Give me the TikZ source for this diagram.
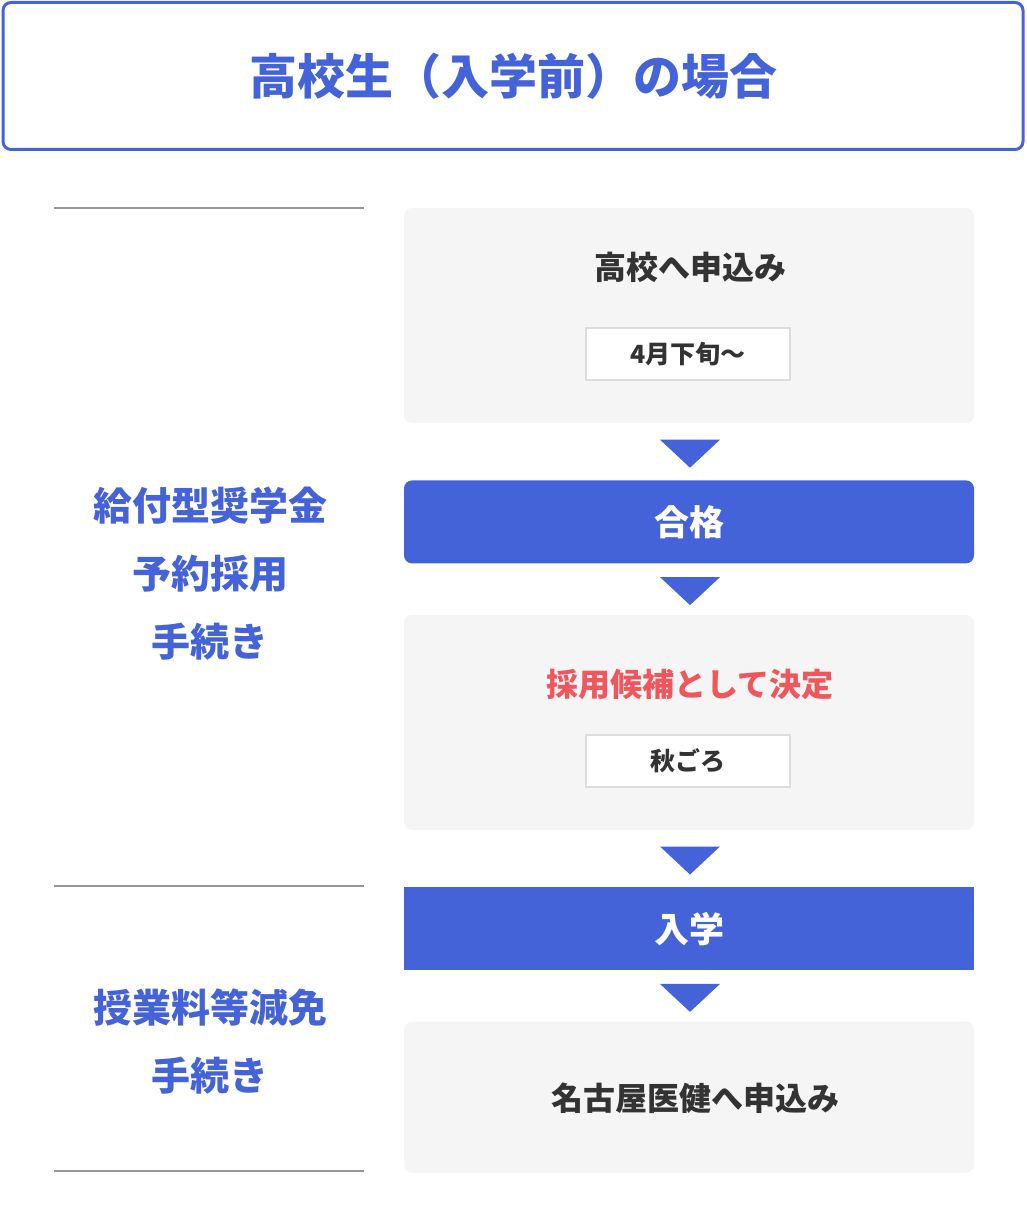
\documentclass[tikz,border=0pt]{standalone}
\usepackage{fontspec}
\setmainfont{Noto Sans CJK JP}
\usepackage{xcolor}
\usepackage{tikz}
\usetikzlibrary{positioning, calc}
\definecolor{flowblue}{RGB}{69, 99, 216}
\definecolor{flowred}{RGB}{240, 86, 92}
\definecolor{panelgray}{RGB}{245, 245, 245}
\definecolor{textdark}{RGB}{51, 51, 51}
\definecolor{rulegray}{RGB}{150, 150, 150}
\definecolor{framegray}{RGB}{221, 221, 221}
\newcommand{\px}[1]{\fontsize{#1}{#1}\selectfont}

\begin{document}
\begin{tikzpicture}[
        x=1pt, y=-1pt,
        panel/.style={rectangle, fill=panelgray, rounded corners=8pt, minimum width=570pt, inner sep=0pt},
        stage/.style={rectangle, fill=flowblue, minimum width=570pt, minimum height=83pt, inner sep=0pt, font=\px{35}\bfseries, text=white},
        headline/.style={inner sep=0pt, font=\px{32}\bfseries, text=textdark},
        period/.style={rectangle, draw=framegray, line width=2pt, fill=white, minimum width=204pt, minimum height=52pt, inner sep=0pt, font=\px{25}\bfseries, text=textdark},
        sidelabel/.style={align=center, inner sep=0pt, font=\fontsize{39}{68}\selectfont\bfseries, text=flowblue},
        divider/.style={rulegray, line width=1.5pt}
    ]
        \useasboundingbox (0,0) rectangle (1026,1222);

        % Title
        \node[draw=flowblue, line width=3pt, rounded corners=8pt, minimum width=1020pt, minimum height=147pt, font=\px{48}\bfseries, text=flowblue] (title) at (513,76) {高校生（入学前）の場合};

        % Left side
        \draw[divider] (54,208) -- (364,208);
        \draw[divider] (54,886) -- (364,886);
        \draw[divider] (54,1171) -- (364,1171);
        \node[sidelabel] (grantlbl) at (210,574) {給付型奨学金\\予約採用\\手続き};
        \node[sidelabel] (feelbl) at (210,1041) {授業料等減免\\手続き};

        % Flow
        \node[panel, minimum height=215pt] (apply) at (689,315.5) {};
        \node[stage, rounded corners=8pt, below=57pt of apply] (pass) {合格};
        \node[panel, minimum height=215pt, below=51pt of pass] (decide) {};
        \node[stage, below=57pt of decide] (enroll) {入学};
        \node[panel, minimum height=151pt, below=51pt of enroll] (register) {};

        % Panel contents
        \node[headline] (applytxt) at ($(apply.north)+(1,60)$) {高校へ申込み};
        \node[period] (applydate) at ($(apply.north)+(-1,146)$) {4月下旬〜};
        \node[headline, text=flowred] (decidetxt) at ($(decide.north)+(1,70)$) {採用候補として決定};
        \node[period] (decidedate) at ($(decide.north)+(-1,146)$) {秋ごろ};
        \node[headline] (registertxt) at ($(register.center)+(6,1)$) {名古屋医健へ申込み};

        % Arrows
        \foreach \a/\b in {apply/pass, pass/decide, decide/enroll, enroll/register}
            \fill[flowblue] ($(\a.south)!0.5!(\b.north)+(1,2)$) +(-30,-14) -- +(30,-14) -- +(0,14) -- cycle;
    \end{tikzpicture}
\end{document}
